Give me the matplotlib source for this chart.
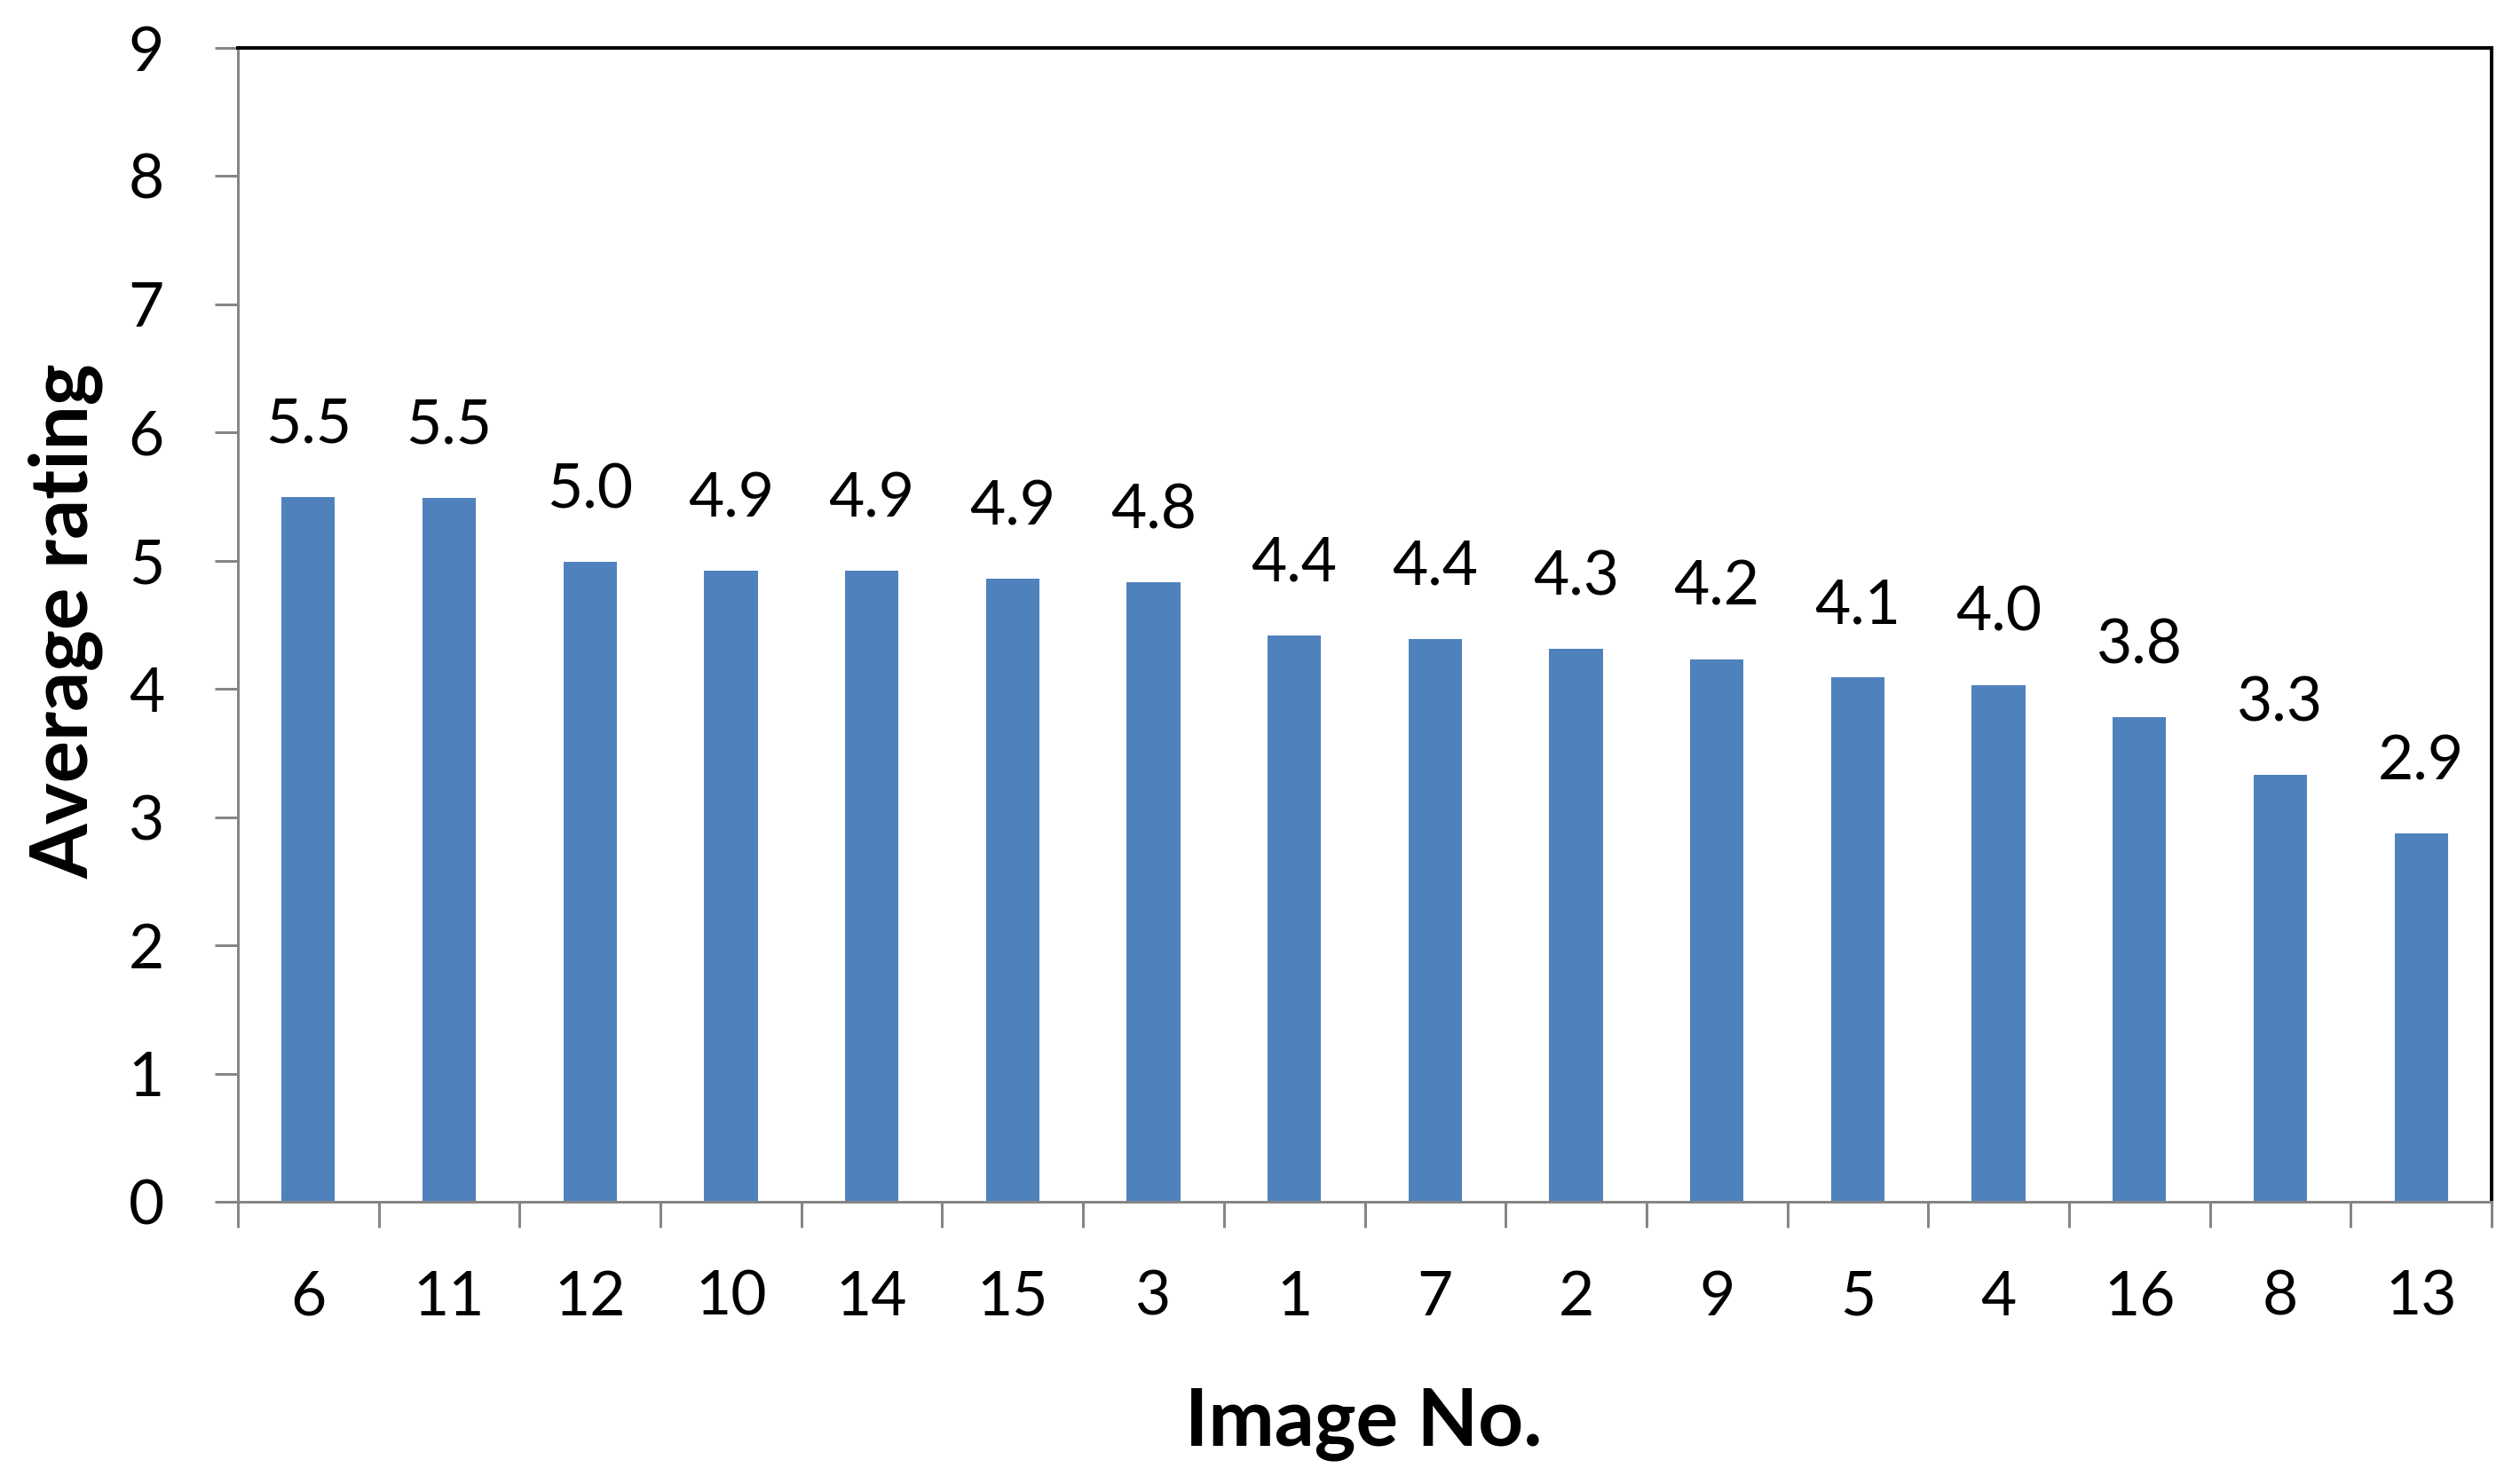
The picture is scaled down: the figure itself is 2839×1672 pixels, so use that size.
import matplotlib
matplotlib.use("Agg")
import matplotlib.pyplot as plt
from matplotlib.ticker import FixedLocator, NullFormatter

# ---- data ----
image_nos = ["6", "11", "12", "10", "14", "15", "3", "1", "7", "2", "9", "5", "4", "16", "8", "13"]
avg_rating = [5.50, 5.49, 4.99, 4.92, 4.92, 4.86, 4.83, 4.42, 4.39, 4.31, 4.23, 4.09, 4.03, 3.78, 3.33, 2.87]
y_ticks = [0, 1, 2, 3, 4, 5, 6, 7, 8, 9]

W, H, DPI = 2839, 1672, 100
PX = 72.0 / DPI  # points per pixel

plt.rcParams['font.family'] = ['Lato', 'DejaVu Sans']

fig = plt.figure(figsize=(W / DPI, H / DPI), dpi=DPI)
ax = fig.add_axes([268 / W, 1 - 1354 / H, (2807 - 268) / W, (1354 - 54) / H])

x = list(range(len(image_nos)))
ax.bar(x, avg_rating, width=0.38, color='#4F81BD', zorder=2)

for xi, v in zip(x, avg_rating):
    ax.annotate(f"{v:.1f}", (xi, v), xytext=(0, 61 * PX), textcoords='offset points',
                ha='center', va='baseline', fontsize=50, color='black')

ax.set_xlim(-0.5, len(image_nos) - 0.5)
ax.set_ylim(0, 9)
ax.set_yticks(y_ticks)
ax.set_yticklabels([str(t) for t in y_ticks])

ax.set_xticks(x)
ax.set_xticklabels(image_nos)
ax.xaxis.set_minor_locator(FixedLocator([i - 0.5 for i in range(len(image_nos) + 1)]))
ax.xaxis.set_minor_formatter(NullFormatter())
ax.tick_params(axis='x', which='major', length=0, pad=77 * PX, labelsize=50, labelcolor='black')
ax.tick_params(axis='x', which='minor', length=29 * PX, width=3 * PX, color='#868686', direction='out')
ax.tick_params(axis='y', which='major', length=26 * PX, width=3 * PX, color='#868686', direction='out',
               pad=57 * PX, labelsize=50, labelcolor='black')

for s in ['left', 'bottom']:
    ax.spines[s].set_color('#868686')
    ax.spines[s].set_linewidth(3 * PX)
for s in ['top', 'right']:
    ax.spines[s].set_color('black')
    ax.spines[s].set_linewidth(4 * PX)

fig.text(1536 / W, 1 - 1628 / H, "Image No.", ha='center', va='baseline', fontsize=64, fontweight='bold')
fig.text(74 / W, 1 - 700 / H, "Average rating", ha='center', va='center', rotation=90,
         fontsize=64, fontweight='bold')

fig.savefig("out.png", dpi=DPI)
